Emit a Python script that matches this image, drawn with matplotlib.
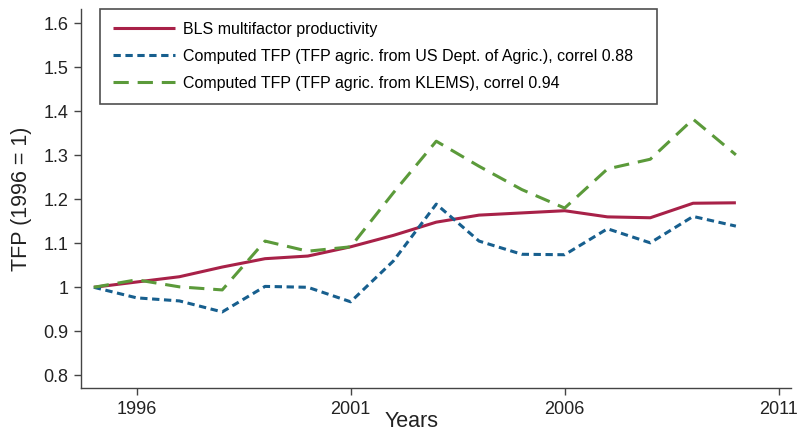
import matplotlib
matplotlib.use("Agg")
import matplotlib.pyplot as plt

plt.rcParams['font.family'] = ['Liberation Sans', 'DejaVu Sans']

years = list(range(1995, 2011))
bls = [1.000, 1.012, 1.024, 1.046, 1.065, 1.071, 1.092, 1.118, 1.148, 1.164,
       1.169, 1.174, 1.160, 1.158, 1.191, 1.192]
usda = [1.000, 0.976, 0.969, 0.944, 1.002, 1.000, 0.967, 1.060, 1.189, 1.105,
        1.075, 1.074, 1.133, 1.101, 1.161, 1.139]
klems = [1.000, 1.017, 1.001, 0.994, 1.105, 1.082, 1.092, 1.215, 1.332, 1.275,
         1.222, 1.180, 1.269, 1.291, 1.382, 1.301]

labels = ["BLS multifactor productivity",
          "Computed TFP (TFP agric. from US Dept. of Agric.), correl 0.88",
          "Computed TFP (TFP agric. from KLEMS), correl 0.94"]
xticks = [1996, 2001, 2006, 2011]
yticks = [0.8, 0.9, 1.0, 1.1, 1.2, 1.3, 1.4, 1.5, 1.6]
yticklabels = ["0.8", "0.9", "1", "1.1", "1.2", "1.3", "1.4", "1.5", "1.6"]

fig = plt.figure(figsize=(7.97, 4.37), dpi=100)
ax = fig.add_axes([0.1016, 0.112, 0.891, 0.867])

red = "#A82148"
blue = "#175F8E"
green = "#5B9A3A"

ax.plot(years, bls, color=red, lw=2.2, label=labels[0], solid_capstyle='butt')
ax.plot(years, usda, color=blue, lw=2.2, dashes=(2.4, 1.5), label=labels[1])
ax.plot(years, klems, color=green, lw=2.2, dashes=(5.0, 2.9), label=labels[2])

ax.set_xlim(1994.7, 2011.29)
ax.set_ylim(0.771, 1.632)
ax.set_xticks(xticks)
ax.set_xticklabels([str(t) for t in xticks])
ax.set_yticks(yticks)
ax.set_yticklabels(yticklabels)

for s in ['top', 'right']:
    ax.spines[s].set_visible(False)
for s in ['left', 'bottom']:
    ax.spines[s].set_color('#444444')
    ax.spines[s].set_linewidth(1.0)
ax.tick_params(axis='both', direction='out', length=5, width=1.0,
               color='#444444', labelsize=13, labelcolor='#222222', pad=4)

ax.set_xlabel("Years", fontsize=15.5, color='#222222')
ax.xaxis.set_label_coords(0.465, -0.060)
ax.set_ylabel("TFP (1996 = 1)", fontsize=15.5, color='#222222', labelpad=8)

leg = ax.legend(loc='upper left', bbox_to_anchor=(0.0268, 0.0, 0.7845, 1.0),
                mode='expand', fontsize=11.5,
                frameon=True, fancybox=False, edgecolor='#222222',
                handlelength=3.9, handletextpad=0.5, labelspacing=0.75,
                borderpad=0.8, borderaxespad=0.0)
leg.get_frame().set_linewidth(1.2)

fig.savefig("out.png", dpi=100)
